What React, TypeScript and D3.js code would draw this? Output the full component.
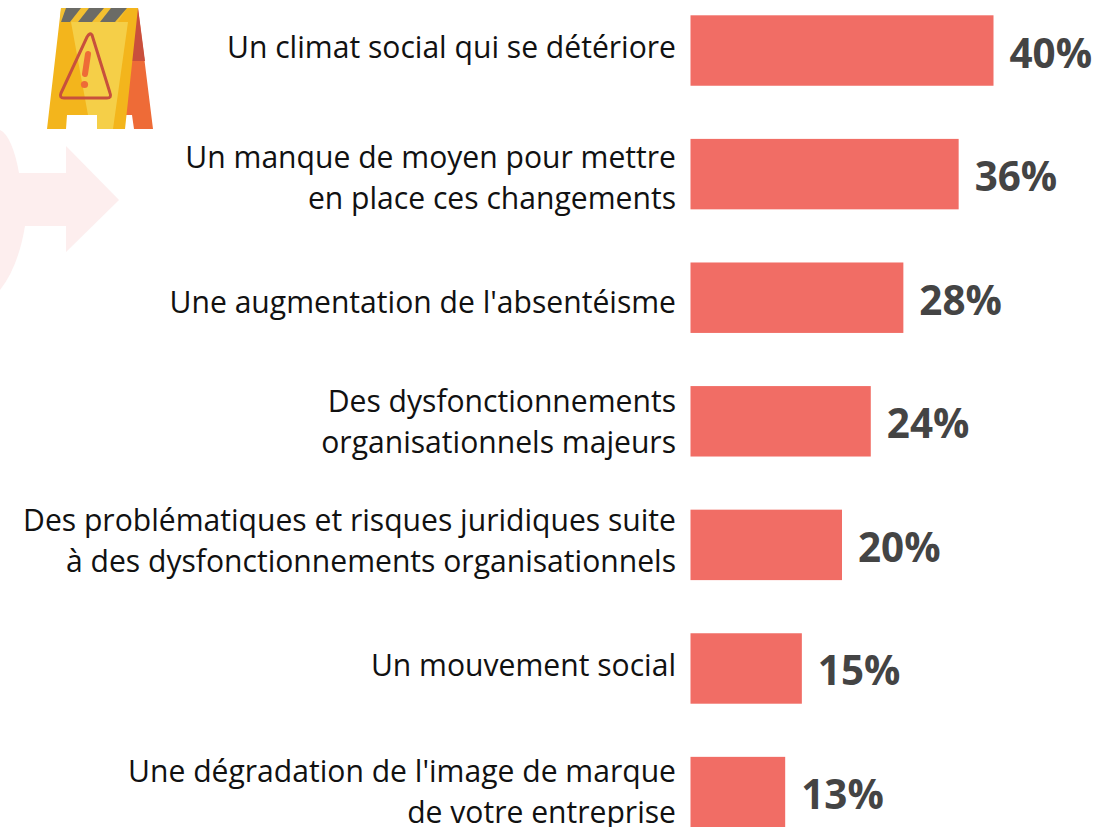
import React from "react";
import * as d3 from "d3";

const categories = [
  ["Un climat social qui se détériore"],
  ["Un manque de moyen pour mettre", "en place ces changements"],
  ["Une augmentation de l'absentéisme"],
  ["Des dysfonctionnements", "organisationnels majeurs"],
  ["Des problématiques et risques juridiques suite", "à des dysfonctionnements organisationnels"],
  ["Un mouvement social"],
  ["Une dégradation de l'image de marque", "de votre entreprise"],
];
const barValues = [40, 35.4, 28.1, 23.8, 20, 14.7, 12.5];
const valueLabels = ["40%", "36%", "28%", "24%", "20%", "15%", "13%"];

const W = 1117;
const H = 827;
const x = d3.scaleLinear().domain([0, 40]).range([690.5, 993.5]);
const y = d3
  .scaleBand<number>()
  .domain(d3.range(categories.length))
  .range([15.3, 827.3])
  .paddingInner(0.43)
  .paddingOuter(0);

const TEXT = "'Open Sans', sans-serif";
// Label baselines in the reference are not evenly placed within their rows.
const labelShift = [4, 4.5, 12.5, 2, -3, 5, 1];

export default function App() {
  return (
    <svg
      width={W}
      height={H}
      viewBox={`0 0 ${W} ${H}`}
      style={{ position: "absolute", left: 0, top: 0, background: "#fff" }}
    >
      <path
        d="M0 130 A 26 90 0 0 1 19 173 L66 173 L66 146 L119 200 L66 252 L66 226 L25 226 A 60 120 0 0 1 0 290 Z"
        fill="#fdeeee"
      />
      <g>
        <path d="M138 8 L153 129 L134 129 L132 115 L125 115 L125 8 Z" fill="#ee6b37" />
        <path d="M138 8 L145 61 L126 61 L126 20 Z" fill="#c94f3c" />
        <path d="M61 8 L138 8 L125 129 L98 129 L97 115 L67 115 L66 129 L47 129 Z" fill="#f3b51c" />
        <path d="M71 22 L128 22 L113 129 L97 129 L97 115 L88 115 Z" fill="#f5cf48" />
        <path d="M61 8 L127 8 L118 22 L60 22 Z" fill="#f3c030" />
        <path d="M61 22 L66 8 L81 8 L70 22 Z" fill="#6b6b66" />
        <path d="M78 22 L89 8 L104 8 L92 22 Z" fill="#6b6b66" />
        <path d="M100 22 L111 8 L127 8 L115 22 Z" fill="#6b6b66" />
        <path
          d="M92 35 L110 93 Q112 98 107 98 L64 98 Q59 98 61 93 L87 37 Q90 32 92 35 Z"
          fill="none"
          stroke="#c8503c"
          strokeWidth={3}
        />
        <path d="M88 54 L85 74" stroke="#ee6b37" strokeWidth={6} strokeLinecap="round" />
        <circle cx={84.5} cy={84.5} r={3.6} fill="#ee6b37" />
      </g>

      {categories.map((lines, i) => {
        const band = y(i)!;
        const h = y.bandwidth();
        const cy = band + h / 2;
        return (
          <g key={i}>
            <rect x={x(0)} y={band} width={x(barValues[i]) - x(0)} height={h} fill="#f16d65" />
            <text
              x={x(barValues[i]) + 16}
              y={cy + 17}
              fontFamily={TEXT}
              fontWeight={700}
              fontSize={40.4}
              fill="#444444"
            >
              {valueLabels[i]}
            </text>
            {lines.map((line, j) => (
              <text
                key={j}
                x={676}
                y={(lines.length === 1 ? cy + 3 : cy - 11 + j * 41) + labelShift[i]}
                textAnchor="end"
                fontFamily={TEXT}
                fontSize={30.1}
                fill="#111111"
              >
                {line}
              </text>
            ))}
          </g>
        );
      })}
    </svg>
  );
}
